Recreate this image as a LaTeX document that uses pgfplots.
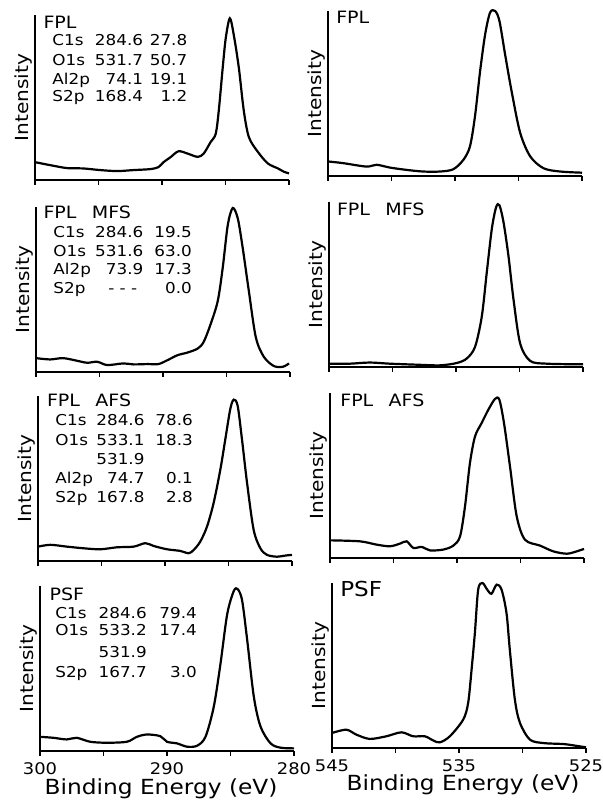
\documentclass[border=0pt]{standalone}
\usepackage{fontspec}
\setmainfont[FakeStretch=1.12]{DejaVu Sans}
\usepackage{pgfplots}
\pgfplotsset{compat=1.18}

\pgfplotsset{
  panel/.style={
    scale only axis, width=127pt, height=82.5pt,
    anchor=south west,
    axis x line=bottom, axis y line=left,
    axis line style={-, line width=0.6pt, black},
    x dir=reverse,
    ymin=0, ymax=100, ytick=\empty,
    tick align=outside, major tick length=2.5pt,
    xtick style={line width=0.6pt, black},
    xticklabels={},
    ticklabel style={font=\fontsize{8}{8}\selectfont},
    ylabel={Intensity},
    ylabel style={at={(axis description cs:0,0.5)}, anchor=south, inner sep=1pt,
      font=\fontsize{9}{9}\selectfont},
    xlabel style={at={(axis description cs:0.5,0)}, anchor=base, yshift=-22pt,
      inner sep=0pt, font=\fontsize{10.4}{10.4}\selectfont},
    clip=false,
    cycle list={black\\},
    every axis plot/.append style={line width=1.1pt, smooth, tension=0.5, no marks},
  },
  cpanel/.style={panel, xmin=280, xmax=300, xtick={280,285,290,295,300}},
  opanel/.style={panel, xmin=525, xmax=545, xtick={525,530,535,540,545}},
}
\tikzset{
  lab/.style={anchor=base west, inner sep=0pt, font=\fontsize{8.5}{8.5}\selectfont},
  ann/.style={anchor=base west, inner sep=0pt, font=\fontsize{7.5}{7.5}\selectfont},
  num/.style={anchor=base east, inner sep=0pt, font=\fontsize{7.5}{7.5}\selectfont},
}

\begin{document}
\begin{tikzpicture}
\path[use as bounding box] (0,0) rectangle (301pt,400.5pt);

% ---------- left column: C1s ----------
\begin{axis}[cpanel, at={(17.5pt,310.5pt)}]
\addplot coordinates {(300,10.8) (298.81,9) (297.47,7.2) (296.21,7) (294.86,6) (293.52,5.4)
 (292.25,6) (290.91,6.6) (290.28,7.8) (289.88,10.8) (289.33,13.8) (288.70,17.4) (287.98,16)
 (287.19,14) (286.72,16) (286.17,23) (285.77,28) (285.53,42) (285.22,68) (284.98,86)
 (284.66,98) (284.35,88) (283.95,68) (283.56,42) (283.16,26) (282.45,17) (281.66,10)
 (280.87,7) (280.40,5) (280.00,4)};
\node[lab] at (axis description cs:0.032,0.916) {FPL};
\node[ann] at (axis description cs:0.067,0.814) {C1s};
\node[num] at (axis description cs:0.427,0.814) {284.6};
\node[num] at (axis description cs:0.601,0.814) {27.8};
\node[ann] at (axis description cs:0.067,0.695) {O1s};
\node[num] at (axis description cs:0.427,0.695) {531.7};
\node[num] at (axis description cs:0.601,0.695) {50.7};
\node[ann] at (axis description cs:0.067,0.581) {Al2p};
\node[num] at (axis description cs:0.427,0.581) {74.1};
\node[num] at (axis description cs:0.601,0.581) {19.1};
\node[ann] at (axis description cs:0.067,0.473) {S2p};
\node[num] at (axis description cs:0.427,0.473) {168.4};
\node[num] at (axis description cs:0.601,0.473) {1.2};
\end{axis}

\begin{axis}[cpanel, at={(18pt,214.5pt)}]
\addplot coordinates {(300,8.4) (298.89,7.6) (297.87,8.4) (296.76,6.8) (295.97,5.6) (295.18,6.2)
 (294.39,4.2) (293.12,5.2) (292.33,4.6) (291.23,4.8) (290.36,4.8) (289.64,7.2) (288.85,10.2)
 (288.06,11.8) (287.27,14.2) (286.80,18.2) (286.25,29) (285.69,43) (285.30,63) (284.90,89)
 (284.51,99.4) (284.11,93) (283.72,75) (283.24,49) (282.69,21) (282.06,9.2) (281.27,3.6)
 (280.55,3.2) (280.08,5.2)};
\node[lab] at (axis description cs:0.028,0.928) {FPL\hspace{0.9em}MFS};
\node[ann] at (axis description cs:0.067,0.816) {C1s};
\node[num] at (axis description cs:0.424,0.816) {284.6};
\node[num] at (axis description cs:0.615,0.816) {19.5};
\node[ann] at (axis description cs:0.067,0.700) {O1s};
\node[num] at (axis description cs:0.424,0.700) {531.6};
\node[num] at (axis description cs:0.615,0.700) {63.0};
\node[ann] at (axis description cs:0.067,0.591) {Al2p};
\node[num] at (axis description cs:0.424,0.591) {73.9};
\node[num] at (axis description cs:0.615,0.591) {17.3};
\node[ann] at (axis description cs:0.067,0.477) {S2p};
\node[num] at (axis description cs:0.400,0.477) {- - -};
\node[num] at (axis description cs:0.615,0.477) {0.0};
\end{axis}

\begin{axis}[cpanel, at={(19pt,120pt)}]
\addplot coordinates {(300,8.7) (299.03,9.8) (297.72,8.7) (296.40,7.7) (295.09,7.1) (293.78,8.3)
 (292.47,8.7) (291.55,10.8) (290.89,9.1) (289.84,7.1) (288.79,6.1) (288.14,4.7) (287.74,6.7)
 (287.22,11.8) (286.69,20.9) (286.17,35.2) (285.64,55.5) (285.25,73.8) (284.86,92.1)
 (284.59,97.8) (284.28,94.1) (283.94,73.8) (283.54,47.4) (283.02,18.9) (282.49,7.7)
 (281.97,3.7) (281.18,2.6) (280.52,3.3) (280.0,3.7)};
\node[lab] at (axis description cs:0.034,0.937) {FPL\hspace{0.9em}AFS};
\node[ann] at (axis description cs:0.067,0.819) {C1s};
\node[num] at (axis description cs:0.421,0.819) {284.6};
\node[num] at (axis description cs:0.611,0.819) {78.6};
\node[ann] at (axis description cs:0.067,0.697) {O1s};
\node[num] at (axis description cs:0.421,0.697) {533.1};
\node[num] at (axis description cs:0.611,0.697) {18.3};
\node[num] at (axis description cs:0.421,0.585) {531.9};
\node[ann] at (axis description cs:0.067,0.470) {Al2p};
\node[num] at (axis description cs:0.421,0.470) {74.7};
\node[num] at (axis description cs:0.611,0.470) {0.1};
\node[ann] at (axis description cs:0.067,0.352) {S2p};
\node[num] at (axis description cs:0.421,0.352) {167.8};
\node[num] at (axis description cs:0.611,0.352) {2.8};
\end{axis}

\begin{axis}[cpanel, at={(20pt,25pt)}, xticklabels={280,,290,,300},
  xlabel={Binding Energy (eV)}, xlabel style={xshift=-3pt}]
\addplot coordinates {(300,8.6) (298.95,8.0) (297.89,7.0) (297.11,8.0) (296.05,5.6) (294.74,5.0)
 (293.16,5.6) (292.37,8.6) (291.58,10.0) (290.53,9.0) (290.0,5.6) (289.21,4.6) (288.42,2.6)
 (287.63,3.2) (286.97,8.6) (286.32,26.7) (285.79,52.8) (285.26,82.9) (284.74,97.0)
 (284.42,98.0) (284.08,91.0) (283.68,66.9) (283.16,32.7) (282.63,14.7) (281.84,4.6)
 (281.05,2.0) (280.0,1.6)};
\node[lab] at (axis description cs:0.036,0.910) {PSF};
\node[ann] at (axis description cs:0.059,0.805) {C1s};
\node[num] at (axis description cs:0.422,0.805) {284.6};
\node[num] at (axis description cs:0.619,0.805) {79.4};
\node[ann] at (axis description cs:0.059,0.699) {O1s};
\node[num] at (axis description cs:0.422,0.699) {533.2};
\node[num] at (axis description cs:0.619,0.699) {17.4};
\node[num] at (axis description cs:0.422,0.564) {531.9};
\node[ann] at (axis description cs:0.059,0.448) {S2p};
\node[num] at (axis description cs:0.422,0.448) {167.7};
\node[num] at (axis description cs:0.619,0.448) {3.0};
\end{axis}

% ---------- right column: O1s ----------
\begin{axis}[opanel, at={(164pt,312.5pt)}]
\addplot coordinates {(545,8.8) (543.82,7.8) (541.97,5.7) (541.18,6.8) (540.13,5.1) (538.82,3.7)
 (537.50,2.7) (536.18,2.7) (535.13,4.1) (534.34,9.8) (533.82,18.0) (533.42,36.5) (533.03,63.1)
 (532.63,85.7) (532.24,99.0) (531.84,100) (531.50,93.9) (531.05,73.4) (530.53,50.8)
 (529.87,26.2) (529.08,11.9) (528.03,4.7) (526.71,2.7) (525,2.0)};
\node[lab] at (axis description cs:0.031,0.926) {FPL};
\end{axis}

\begin{axis}[opanel, at={(164.5pt,217pt)}]
\addplot coordinates {(545,2.0) (543.37,2.0) (541.79,2.7) (540.21,2.0) (538.11,1.4) (536.26,1.0)
 (534.95,2.4) (534.16,5.1) (533.50,12.2) (532.97,30.6) (532.58,57.1) (532.18,83.7)
 (531.84,96.9) (531.58,98.0) (531.26,87.8) (530.87,67.3) (530.47,40.8) (529.95,14.3)
 (529.16,3.7) (527.84,2.0) (525,1.6)};
\node[lab] at (axis description cs:0.030,0.921) {FPL\hspace{0.9em}MFS};
\end{axis}

\begin{axis}[opanel, at={(165pt,121.5pt)}]
\addplot coordinates {(545,10.7) (542.64,10.1) (541.33,8.1) (540.28,7.1) (539.49,8.7) (538.96,10.1)
 (538.44,6.1) (537.78,6.7) (537.13,4.6) (536.08,5.1) (535.29,7.5) (534.76,13.1) (534.37,31.3)
 (533.98,57.6) (533.58,73.7) (533.06,81.8) (532.53,89.9) (532.01,96.4) (531.67,96.0)
 (531.30,81.8) (530.83,55.6) (530.30,25.3) (529.65,11.1) (528.46,7.5) (527.41,4.0)
 (526.36,2.6) (525.58,4.0) (525.0,5.5)};
\node[lab] at (axis description cs:0.039,0.917) {FPL\hspace{0.9em}AFS};
\end{axis}

\begin{axis}[opanel, at={(166pt,26.5pt)}, xticklabels={525,,535,,545},
  xlabel={Binding Energy (eV)}, xlabel style={xshift=2pt, yshift=1pt}]
\addplot coordinates {(545,9.1) (543.87,11.1) (543.08,8.1) (542.03,5.5) (540.72,7.1) (539.53,9.5)
 (538.61,7.1) (537.69,7.1) (537.04,4.6) (536.51,3.4) (535.72,7.1) (534.67,17.2) (534.28,27.3)
 (534.01,47.5) (533.75,69.7) (533.49,96.0) (533.15,100) (532.78,96.0) (532.44,93.5)
 (532.04,99.0) (531.65,96.0) (531.26,81.8) (531.0,59.6) (530.60,29.3) (530.20,15.2)
 (529.42,5.1) (528.36,3.0) (526.79,2.4) (526.0,1.6) (525,0.4)};
\node[lab, font=\fontsize{10.3}{10.3}\selectfont] at (axis description cs:0.031,0.917) {PSF};
\end{axis}
\end{tikzpicture}
\end{document}
